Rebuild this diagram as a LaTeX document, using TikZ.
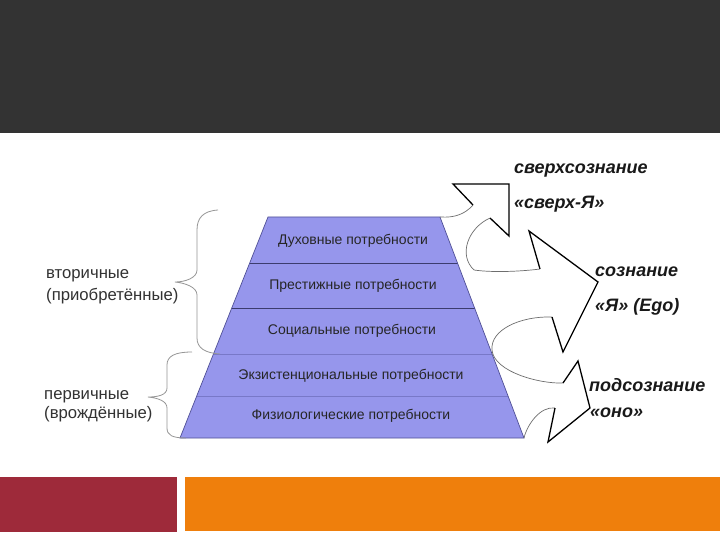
\documentclass[tikz,border=0pt]{standalone}
\usepackage{fontspec}
\setmainfont{Liberation Sans}
\definecolor{topband}{RGB}{51,51,51}
\definecolor{pyr}{RGB}{150,150,236}
\definecolor{pyredge}{RGB}{80,80,150}
\definecolor{pyrline}{RGB}{60,60,110}
\definecolor{pyrline2}{RGB}{120,120,200}
\definecolor{barred}{RGB}{158,42,58}
\definecolor{barorange}{RGB}{239,127,12}
\definecolor{bracegrey}{RGB}{150,150,150}
\definecolor{curvegrey}{RGB}{110,110,110}
\definecolor{lefttext}{RGB}{50,50,50}
\tikzset{
  layertext/.style={font=\fontsize{14}{16}\selectfont, text=black!85, inner sep=0},
  sidetext/.style={font=\fontsize{16.7}{19}\selectfont, text=lefttext, anchor=west, inner sep=0},
  egotext/.style={font=\fontsize{18}{20}\selectfont\bfseries\itshape, text=black!90, anchor=west, inner sep=0},
  bracestyle/.style={draw=bracegrey, line width=0.8pt},
  bodycurve/.style={draw=curvegrey, line width=0.7pt},
  headstyle/.style={draw=black, line width=1.3pt, fill=white, line join=miter}
}
\begin{document}
\begin{tikzpicture}[x=1pt,y=-1pt]
\useasboundingbox (0,0) rectangle (720,540);
\fill[white] (0,0) rectangle (720,540);
% top band
\fill[topband] (0,0) rectangle (720,133);
% bottom bars
\fill[barred] (0,477) rectangle (177,532);
\fill[barorange] (185,477) rectangle (720,531);

% pyramid
\coordinate (tl) at (268,217);
\coordinate (tr) at (440,217);
\coordinate (bl) at (180,438);
\coordinate (br) at (524,438);
\fill[pyr] (tl) -- (tr) -- (br) -- (bl) -- cycle;
\draw[pyrline, line width=0.6pt] (249.7,263) -- (457.5,263);
\draw[pyrline, line width=0.6pt] (231.8,308) -- (474.6,308);
\draw[pyrline2, line width=0.6pt] (213.5,354) -- (492.1,354);
\draw[pyrline2, line width=0.6pt] (196.7,396) -- (508.0,396);
\draw[pyredge, line width=0.7pt] (tl) -- (tr) -- (br) -- (bl) -- cycle;

\node[layertext] (l1) at (353,241) {Духовные потребности};
\node[layertext] (l2) at (353,286) {Престижные потребности};
\node[layertext] (l3) at (352,331) {Социальные потребности};
\node[layertext] (l4) at (351,376) {Экзистенциональные потребности};
\node[layertext] (l5) at (351,416) {Физиологические потребности};

% braces
\draw[bracestyle] (218,210) .. controls (203,211) and (197,218) .. (197,230) -- (197,270)
  .. controls (197,278) and (185,282) .. (175,282) .. controls (185,283) and (197,287) .. (197,295)
  -- (197,338) .. controls (197,348) and (205,353) .. (220,354);
\draw[bracestyle] (192,352) .. controls (175,352) and (167,356) .. (167,365) -- (167,388)
  .. controls (167,395) and (158,397) .. (148,397) .. controls (158,398) and (167,401) .. (167,408)
  -- (167,428) .. controls (167,435) and (172,438) .. (186,438);

\node[sidetext] (sec1) at (46,276) {вторичные};
\node[sidetext] (sec2) at (46,296) {(приобретённые)};
\node[sidetext] (pri1) at (44,397) {первичные};
\node[sidetext] (pri2) at (44,414) {(врождённые)};

% arrow bodies
\coordinate (a1o) at (473,205);
\coordinate (a1i) at (490,218);
\coordinate (a2o) at (540,269);
\coordinate (a2i) at (552,317);
\coordinate (a3o) at (563,383);
\coordinate (a3i) at (555,408);
\draw[bodycurve] (tr) .. controls (455,218) and (465,214) .. (a1o);
\draw[bodycurve] (a1i) .. controls (468,228) and (458,255) .. (474,270) .. controls (495,273) and (525,271) .. (a2o);
\draw[bodycurve] (a2i) .. controls (520,316) and (490,330) .. (492,350) .. controls (494,372) and (540,384) .. (a3o);
\draw[bodycurve] (a3i) .. controls (540,406) and (527,425) .. (br);

% arrow heads
\draw[headstyle] (a1o) -- (453,184) -- (509,184) -- (509,236) -- (a1i);
\draw[headstyle] (a2o) -- (529,231) -- (598,282) -- (563,352) -- (a2i);
\draw[headstyle] (a3o) -- (578,361) -- (590,408) -- (548,442) -- (a3i);

% right labels
\node[egotext] (e1) at (514,171) {сверхсознание};
\node[egotext] (e2) at (514,204) {«сверх-Я»};
\node[egotext] (e3) at (595,272) {сознание};
\node[egotext] (e4) at (595,307) {«Я» (Ego)};
\node[egotext] (e5) at (589,385) {подсознание};
\node[egotext] (e6) at (590,413) {«оно»};
\end{tikzpicture}
\end{document}
